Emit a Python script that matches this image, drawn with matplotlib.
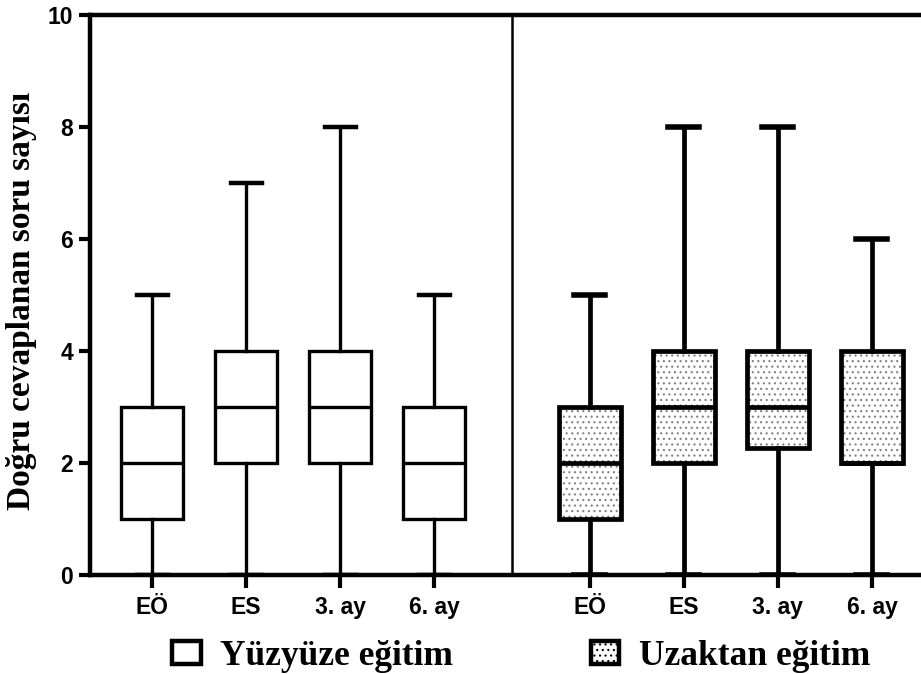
import matplotlib
matplotlib.use("Agg")
import matplotlib.pyplot as plt
from matplotlib.patches import Patch, PathPatch
import numpy as np

# ---- data ----
groups = ["Yüzyüze eğitim", "Uzaktan eğitim"]
time_labels = ["EÖ", "ES", "3. ay", "6. ay"]

# whisker min, Q1, median, Q3, whisker max
face_min = [0, 0, 0, 0]
face_q1 = [1, 2, 2, 1]
face_med = [2, 3, 3, 2]
face_q3 = [3, 4, 4, 3]
face_max = [5, 7, 8, 5]

dist_min = [0, 0, 0, 0]
dist_q1 = [1, 2, 2.27, 2]
dist_med = [2, 3, 3, 2]
dist_q3 = [3, 4, 4, 4]
dist_max = [5, 8, 8, 6]

ylabel = "Doğru cevaplanan soru sayısı"
yticks = [0, 2, 4, 6, 8, 10]

# ---- positions ----
pos_face = [1, 2, 3, 4]
pos_dist = [5.65, 6.65, 7.65, 8.65]
divider_x = 4.825

plt.rcParams['hatch.color'] = '#808080'
plt.rcParams['hatch.linewidth'] = 0.8

fig = plt.figure(figsize=(9.21, 6.74), dpi=100)
ax = fig.add_axes([90/921, 1-575/674, 1-90/921, (575-15)/674])

def stats(mins, q1s, meds, q3s, maxs, labels):
    out = []
    for a, b, c, d, e, l in zip(mins, q1s, meds, q3s, maxs, labels):
        out.append(dict(whislo=a, q1=b, med=c, q3=d, whishi=e, label=l, fliers=[]))
    return out

lw_l = 2.4
bp1 = ax.bxp(stats(face_min, face_q1, face_med, face_q3, face_max, time_labels),
             positions=pos_face, widths=0.66, patch_artist=True,
             showfliers=False,
             boxprops=dict(facecolor='white', edgecolor='black', linewidth=lw_l),
             medianprops=dict(color='black', linewidth=lw_l),
             whiskerprops=dict(color='black', linewidth=lw_l),
             capprops=dict(color='black', linewidth=3.2),
             capwidths=0.33)

lw_r = 3.4
bp2 = ax.bxp(stats(dist_min, dist_q1, dist_med, dist_q3, dist_max, time_labels),
             positions=pos_dist, widths=0.66, patch_artist=True,
             showfliers=False,
             boxprops=dict(facecolor='white', edgecolor='#808080', linewidth=0, hatch='...'),
             medianprops=dict(color='black', linewidth=lw_r),
             whiskerprops=dict(color='black', linewidth=lw_r),
             capprops=dict(color='black', linewidth=4),
             capwidths=0.33)
for b in bp2['boxes']:
    ax.add_patch(PathPatch(b.get_path(), facecolor='none', edgecolor='black',
                           linewidth=lw_r, zorder=b.get_zorder() + 0.5,
                           joinstyle='miter'))
for b in bp1['boxes']:
    b.set_joinstyle('miter')

ax.axvline(divider_x, color='black', linewidth=1.8, zorder=1)

ax.set_xlim(1 - 62/94, 8.65 + 49/94)
ax.set_ylim(0, 10)
ax.set_yticks(yticks)
ax.set_xticks(pos_face + pos_dist)
ax.set_xticklabels(time_labels + time_labels)

for s in ['left', 'bottom', 'top']:
    ax.spines[s].set_linewidth(3.2)
ax.spines['right'].set_visible(False)

for lab in ax.get_xticklabels() + ax.get_yticklabels():
    lab.set_fontfamily('Liberation Sans')
    lab.set_fontweight('bold')
    lab.set_fontsize(16.5)
ax.tick_params(axis='both', direction='out', width=3, length=9, pad=6)
ax.tick_params(axis='y', length=8, pad=4)

ax.set_ylabel(ylabel, fontfamily='Liberation Serif', fontweight='bold',
              fontsize=24, va='center')
ax.yaxis.set_label_coords(-0.083, 0.49)

handles = [Patch(facecolor='white', edgecolor='black', linewidth=3.2),
           Patch(facecolor='white', edgecolor='black', linewidth=3.2, hatch='...')]
leg = fig.legend(handles, groups, loc='center', bbox_to_anchor=(0.566, 0.026),
                 ncol=2, frameon=False, handlelength=0.8, handleheight=0.65,
                 handletextpad=0.55, columnspacing=3.9,
                 prop=dict(family='Liberation Serif', weight='bold', size=25.5))

fig.savefig("out.png", dpi=100)
